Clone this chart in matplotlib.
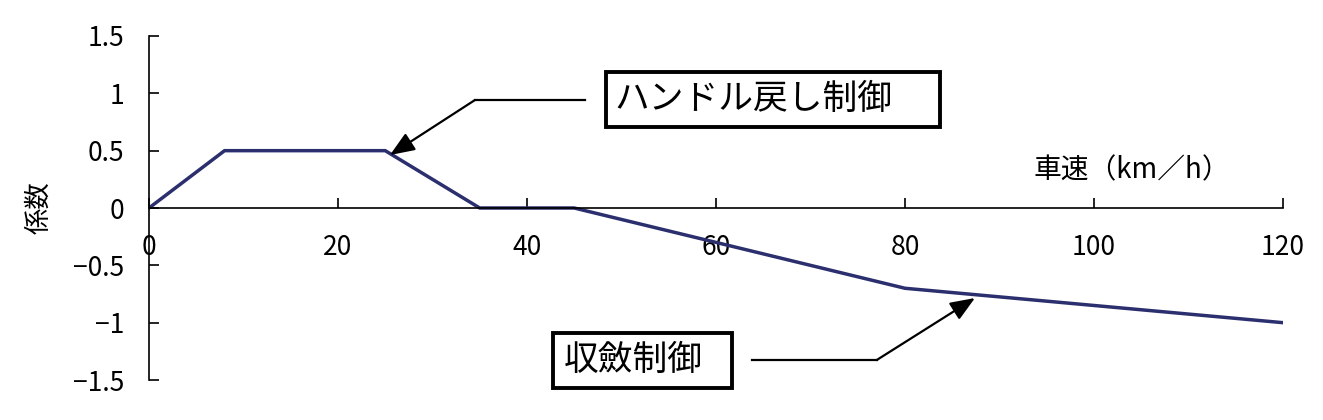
import matplotlib
matplotlib.use("Agg")
import matplotlib.pyplot as plt
from matplotlib.patches import Rectangle

plt.rcParams['font.family'] = ['Noto Sans CJK JP', 'DejaVu Sans']

## data
speed = [0, 8, 25, 35, 45, 80, 120]
coef = [0, 0.5, 0.5, 0, 0, -0.7, -1.0]
x_ticks = [0, 20, 40, 60, 80, 100, 120]
y_ticks = [-1.5, -1, -0.5, 0, 0.5, 1, 1.5]
x_label = "車速（km／h）"
y_label = "係数"
label_return = "ハンドル戻し制御"
label_converge = "収斂制御"

fig = plt.figure(figsize=(13.23, 4.2), dpi=100)
ax = fig.add_axes([0.1126, 0.0952, 0.8572, 0.8191])

ax.plot(speed, coef, color="#2b2f6e", lw=2.5, solid_joinstyle="miter")

ax.set_xlim(0, 120)
ax.set_ylim(-1.5, 1.5)
ax.spines['top'].set_visible(False)
ax.spines['right'].set_visible(False)
ax.spines['bottom'].set_position(('data', 0))
for s in ('left', 'bottom'):
    ax.spines[s].set_linewidth(1.2)

ax.set_xticks(x_ticks)
ax.set_xticklabels([str(v) for v in x_ticks])
ax.set_yticks(y_ticks)
ax.set_yticklabels([f"{v:g}".replace("-", "\u2212") for v in y_ticks])
ax.tick_params(axis='x', direction='in', length=7, width=1.2, pad=19, labelsize=19)
ax.tick_params(axis='y', direction='in', length=7, width=1.2, pad=18, labelsize=19)

## axis titles
ax.text(104, 0.2, x_label, ha='center', va='bottom', fontsize=20)
ax.text(-11.6, 0, y_label, ha='center', va='center', rotation=90, fontsize=19)

## callout boxes
ax.add_patch(Rectangle((48.4, 0.706), 35.3, 0.48, fill=False, lw=2.8,
                       ec='black', clip_on=False))
ax.text(49.3, 0.946, label_return, ha='left', va='center', fontsize=25)
ax.add_patch(Rectangle((42.8, -1.57), 18.9, 0.48, fill=False, lw=2.8,
                       ec='black', clip_on=False))
ax.text(43.9, -1.33, label_converge, ha='left', va='center', fontsize=25)

## leader lines + arrows
arrow = dict(arrowstyle='-|>,head_length=1.5,head_width=0.6', color='black',
             lw=1.6, shrinkA=0, shrinkB=0)
ax.plot([46.1, 34.5], [0.942, 0.942], color='black', lw=1.6, clip_on=False)
ax.annotate('', xy=(25.5, 0.462), xytext=(34.5, 0.942), arrowprops=arrow,
            annotation_clip=False)
ax.plot([63.8, 77.0], [-1.326, -1.326], color='black', lw=1.6, clip_on=False)
ax.annotate('', xy=(87.4, -0.785), xytext=(77.0, -1.326), arrowprops=arrow,
            annotation_clip=False)

fig.savefig("out.png", dpi=100)
